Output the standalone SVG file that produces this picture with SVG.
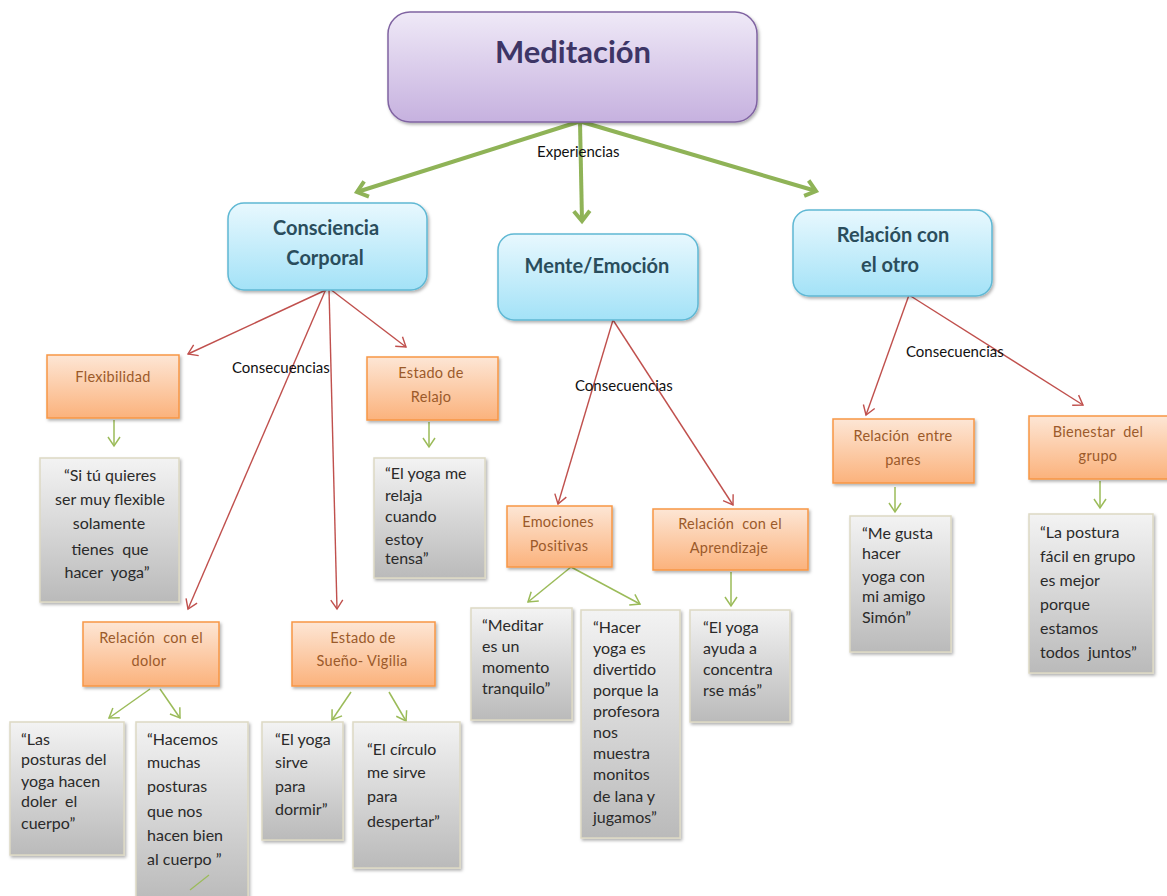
<svg xmlns="http://www.w3.org/2000/svg" width="1167" height="896" viewBox="0 0 1167 896">
<defs>
<linearGradient id="gPur" x1="0" y1="0" x2="0" y2="1"><stop offset="0" stop-color="#efe9f7"/><stop offset="1" stop-color="#c6b1df"/></linearGradient>
<linearGradient id="gBlue" x1="0" y1="0" x2="0" y2="1"><stop offset="0" stop-color="#e8f8fe"/><stop offset="1" stop-color="#a3e2f7"/></linearGradient>
<linearGradient id="gOr" x1="0" y1="0" x2="0" y2="1"><stop offset="0" stop-color="#fde6d5"/><stop offset="1" stop-color="#fbb27c"/></linearGradient>
<linearGradient id="gGray" x1="0" y1="0" x2="0" y2="1"><stop offset="0" stop-color="#f3f3f3"/><stop offset="1" stop-color="#bababa"/></linearGradient>
<filter id="sh" x="-10%" y="-10%" width="130%" height="130%"><feDropShadow dx="1.5" dy="2" stdDeviation="1.5" flood-color="#000" flood-opacity="0.3"/></filter>
<marker id="mG" markerUnits="userSpaceOnUse" markerWidth="20" markerHeight="20" viewBox="-2 -10 14 20" refX="10" refY="0" orient="auto"><path d="M0,-8 L10,0 L0,8" fill="none" stroke="#8fb357" stroke-width="4"/></marker>
<marker id="mR" markerUnits="userSpaceOnUse" markerWidth="14" markerHeight="14" viewBox="-2 -7 12 14" refX="9" refY="0" orient="auto"><path d="M0,-6 L9,0 L0,6" fill="none" stroke="#c0504d" stroke-width="1.4"/></marker>
<marker id="mg" markerUnits="userSpaceOnUse" markerWidth="14" markerHeight="14" viewBox="-2 -7 12 14" refX="9" refY="0" orient="auto"><path d="M0,-6 L9,0 L0,6" fill="none" stroke="#9bbb59" stroke-width="1.5"/></marker>
</defs>
<style>
.pur{fill:url(#gPur);stroke:#8064a2;stroke-width:1.5;filter:url(#sh)}
.blue{fill:url(#gBlue);stroke:#5fb8d4;stroke-width:1.5;filter:url(#sh)}
.or{fill:url(#gOr);stroke:#f79646;stroke-width:1.5;filter:url(#sh)}
.gray{fill:url(#gGray);stroke:#ddd9c3;stroke-width:1.5;filter:url(#sh)}
text{font-family:Lato,"Liberation Sans",sans-serif;white-space:pre}
.t1{font-size:31px;font-weight:bold;fill:#3d3566;text-anchor:middle}
.t2{font-size:20px;font-weight:bold;fill:#2a4d5c;text-anchor:middle}
.t3{font-size:14.5px;fill:#9b5a2a;text-anchor:middle;letter-spacing:0.3px}
.q{font-size:16px;fill:#2a2a2a}
.qc{font-size:16px;fill:#2a2a2a;text-anchor:middle}
.lab{font-size:15px;fill:#111}
.big{stroke:#8fb357;stroke-width:4;fill:none;marker-end:url(#mG)}
.red{stroke:#c0504d;stroke-width:1.4;fill:none;marker-end:url(#mR)}
.grn{stroke:#9bbb59;stroke-width:1.5;fill:none;marker-end:url(#mg)}
</style>

<g id="connectors">
<line class="big" x1="578" y1="122" x2="357" y2="192"/>
<line class="big" x1="580" y1="122" x2="582" y2="221"/>
<line class="big" x1="582" y1="122" x2="816" y2="191"/>
<line class="red" x1="328" y1="289" x2="188" y2="354"/>
<line class="red" x1="326" y1="289" x2="188" y2="609"/>
<line class="red" x1="329" y1="289" x2="337" y2="609"/>
<line class="red" x1="330" y1="289" x2="406" y2="347"/>
<line class="red" x1="613" y1="320" x2="558" y2="504"/>
<line class="red" x1="613" y1="320" x2="733" y2="505"/>
<line class="red" x1="909" y1="295" x2="866" y2="415"/>
<line class="red" x1="909" y1="295" x2="1083" y2="405"/>
<line class="grn" x1="114" y1="420" x2="114" y2="446"/>
<line class="grn" x1="429" y1="422" x2="429" y2="447"/>
<line class="grn" x1="150" y1="689" x2="109" y2="718"/>
<line class="grn" x1="160" y1="689" x2="180" y2="718"/>
<line class="grn" x1="351" y1="692" x2="332" y2="720"/>
<line class="grn" x1="389" y1="692" x2="406" y2="721"/>
<line class="grn" x1="571" y1="567" x2="528" y2="602"/>
<line class="grn" x1="571" y1="567" x2="640" y2="604"/>
<line class="grn" x1="731" y1="572" x2="731" y2="606"/>
<line class="grn" x1="895" y1="487" x2="895" y2="512"/>
<line class="grn" x1="1100" y1="481" x2="1100" y2="508"/>
<text class="lab" x="537" y="157">Experiencias</text>
<text class="lab" x="232" y="373">Consecuencias</text>
<text class="lab" x="575" y="391">Consecuencias</text>
<text class="lab" x="906" y="357">Consecuencias</text>
</g>

<g id="meditacion"><rect class="pur" x="388" y="12" width="369" height="110" rx="22"/><text class="t1" x="573" y="63">Meditación</text></g>

<g id="consciencia"><rect class="blue" x="228" y="203" width="199" height="87" rx="16"/><text class="t2" x="326" y="235">Consciencia</text><text class="t2" x="325" y="265">Corporal</text></g>
<g id="mente"><rect class="blue" x="498" y="234" width="200" height="86" rx="16"/><text class="t2" x="597" y="273">Mente/Emoción</text></g>
<g id="relotro"><rect class="blue" x="793" y="210" width="199" height="86" rx="16"/><text class="t2" x="893" y="242">Relación con</text><text class="t2" x="890" y="272">el otro</text></g>

<g id="flex"><rect class="or" x="47" y="355" width="132" height="63"/><text class="t3" x="113" y="382">Flexibilidad</text></g>
<g id="q-flex"><rect class="gray" x="40" y="458" width="139" height="144"/>
<text class="qc" x="110" y="481">“Si tú quieres</text><text class="qc" x="110" y="505">ser muy flexible</text><text class="qc" x="109" y="529">solamente</text><text class="qc" x="110" y="555">tienes  que</text><text class="qc" x="107" y="578">hacer  yoga”</text></g>

<g id="relajo"><rect class="or" x="367" y="357" width="131" height="63"/><text class="t3" x="431" y="378">Estado de</text><text class="t3" x="431" y="402">Relajo</text></g>
<g id="q-relajo"><rect class="gray" x="374" y="458" width="111" height="120"/>
<text class="q" x="385" y="479">“El yoga me</text><text class="q" x="385" y="501">relaja</text><text class="q" x="385" y="522">cuando</text><text class="q" x="385" y="545">estoy</text><text class="q" x="385" y="564">tensa”</text></g>

<g id="dolor"><rect class="or" x="83" y="622" width="136" height="64"/><text class="t3" x="151" y="643">Relación  con el</text><text class="t3" x="149" y="666">dolor</text></g>
<g id="q-dolor1"><rect class="gray" x="10" y="722" width="114" height="133"/>
<text class="q" x="21" y="745">“Las</text><text class="q" x="21" y="765">posturas del</text><text class="q" x="21" y="787">yoga hacen</text><text class="q" x="21" y="807">doler  el</text><text class="q" x="21" y="829">cuerpo”</text></g>
<g id="q-dolor2"><rect class="gray" x="136" y="722" width="112" height="180"/>
<text class="q" x="147" y="745">“Hacemos</text><text class="q" x="147" y="768">muchas</text><text class="q" x="147" y="792">posturas</text><text class="q" x="147" y="817">que nos</text><text class="q" x="147" y="841">hacen bien</text><text class="q" x="147" y="865">al cuerpo ”</text>
<line x1="190" y1="890" x2="209" y2="875" stroke="#9bbb59" stroke-width="1.2"/></g>

<g id="sueno"><rect class="or" x="292" y="622" width="143" height="64"/><text class="t3" x="363" y="643">Estado de</text><text class="t3" x="362" y="666">Sueño- Vigilia</text></g>
<g id="q-sueno1"><rect class="gray" x="262" y="722" width="81" height="118"/>
<text class="q" x="275" y="745">“El yoga</text><text class="q" x="275" y="768">sirve</text><text class="q" x="275" y="792">para</text><text class="q" x="275" y="815">dormir”</text></g>
<g id="q-sueno2"><rect class="gray" x="353" y="722" width="107" height="146"/>
<text class="q" x="367" y="755">“El círculo</text><text class="q" x="367" y="778">me sirve</text><text class="q" x="367" y="802">para</text><text class="q" x="367" y="827">despertar”</text></g>

<g id="emociones"><rect class="or" x="507" y="506" width="105" height="61"/><text class="t3" x="558" y="527">Emociones</text><text class="t3" x="559" y="551">Positivas</text></g>
<g id="aprendizaje"><rect class="or" x="653" y="509" width="155" height="61"/><text class="t3" x="730" y="529">Relación  con el</text><text class="t3" x="729" y="553">Aprendizaje</text></g>
<g id="q-emo1"><rect class="gray" x="471" y="608" width="101" height="112"/>
<text class="q" x="482" y="631">“Meditar</text><text class="q" x="482" y="652">es un</text><text class="q" x="482" y="673">momento</text><text class="q" x="482" y="694">tranquilo”</text></g>
<g id="q-emo2"><rect class="gray" x="581" y="610" width="99" height="228"/>
<text class="q" x="593" y="633">“Hacer</text><text class="q" x="593" y="654">yoga es</text><text class="q" x="593" y="675">divertido</text><text class="q" x="593" y="696">porque la</text><text class="q" x="593" y="717">profesora</text><text class="q" x="593" y="738">nos</text><text class="q" x="593" y="759">muestra</text><text class="q" x="593" y="780">monitos</text><text class="q" x="593" y="802">de lana y</text><text class="q" x="593" y="823">jugamos”</text></g>
<g id="q-apr"><rect class="gray" x="690" y="610" width="100" height="112"/>
<text class="q" x="703" y="633">“El yoga</text><text class="q" x="703" y="654">ayuda a</text><text class="q" x="703" y="675">concentra</text><text class="q" x="703" y="696">rse más”</text></g>

<g id="pares"><rect class="or" x="833" y="419" width="141" height="64"/><text class="t3" x="903" y="441">Relación  entre</text><text class="t3" x="903" y="465">pares</text></g>
<g id="q-pares"><rect class="gray" x="850" y="516" width="101" height="136"/>
<text class="q" x="862" y="539">“Me gusta</text><text class="q" x="862" y="559">hacer</text><text class="q" x="862" y="582">yoga con</text><text class="q" x="862" y="602">mi amigo</text><text class="q" x="862" y="623">Simón”</text></g>

<g id="bienestar"><rect class="or" x="1029" y="416" width="145" height="63"/><text class="t3" x="1098" y="437">Bienestar  del</text><text class="t3" x="1098" y="461">grupo</text></g>
<g id="q-bien"><rect class="gray" x="1029" y="514" width="124" height="159"/>
<text class="q" x="1040" y="538">“La postura</text><text class="q" x="1040" y="562">fácil en grupo</text><text class="q" x="1040" y="586">es mejor</text><text class="q" x="1040" y="610">porque</text><text class="q" x="1040" y="634">estamos</text><text class="q" x="1040" y="658">todos  juntos”</text></g>
</svg>
